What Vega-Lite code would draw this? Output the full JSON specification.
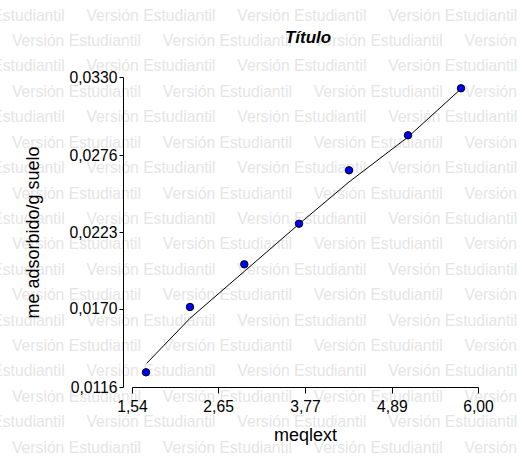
{
  "$schema": "https://vega.github.io/schema/vega-lite/v6.json",
  "width": 346,
  "height": 310,
  "autosize": {"type": "none"},
  "padding": {"left": 132, "top": 77, "right": 43, "bottom": 83},
  "background": "white",
  "config": {"view": {"stroke": null}},
  "title": {"text": "Título", "anchor": "middle", "baseline": "alphabetic", "offset": -52, "dx": 3, "font": "Liberation Sans", "fontSize": 17, "fontWeight": "bold", "fontStyle": "italic", "color": "black"},
  "datasets": {
    "watermark": [
      {"x": -0.9916, "y": 0.036886, "label": "Versión Estudiantil\u00a0\u00a0\u00a0\u00a0\u00a0Versión Estudiantil\u00a0\u00a0\u00a0\u00a0\u00a0Versión Estudiantil\u00a0\u00a0\u00a0\u00a0\u00a0Versión Estudiantil\u00a0\u00a0\u00a0\u00a0\u00a0Versión Estudiantil"},
      {"x": -0.0068, "y": 0.035133, "label": "Versión Estudiantil\u00a0\u00a0\u00a0\u00a0\u00a0Versión Estudiantil\u00a0\u00a0\u00a0\u00a0\u00a0Versión Estudiantil\u00a0\u00a0\u00a0\u00a0\u00a0Versión Estudiantil\u00a0\u00a0\u00a0\u00a0\u00a0Versión Estudiantil"},
      {"x": -0.9916, "y": 0.033380, "label": "Versión Estudiantil\u00a0\u00a0\u00a0\u00a0\u00a0Versión Estudiantil\u00a0\u00a0\u00a0\u00a0\u00a0Versión Estudiantil\u00a0\u00a0\u00a0\u00a0\u00a0Versión Estudiantil\u00a0\u00a0\u00a0\u00a0\u00a0Versión Estudiantil"},
      {"x": -0.0068, "y": 0.031626, "label": "Versión Estudiantil\u00a0\u00a0\u00a0\u00a0\u00a0Versión Estudiantil\u00a0\u00a0\u00a0\u00a0\u00a0Versión Estudiantil\u00a0\u00a0\u00a0\u00a0\u00a0Versión Estudiantil\u00a0\u00a0\u00a0\u00a0\u00a0Versión Estudiantil"},
      {"x": -0.9916, "y": 0.029873, "label": "Versión Estudiantil\u00a0\u00a0\u00a0\u00a0\u00a0Versión Estudiantil\u00a0\u00a0\u00a0\u00a0\u00a0Versión Estudiantil\u00a0\u00a0\u00a0\u00a0\u00a0Versión Estudiantil\u00a0\u00a0\u00a0\u00a0\u00a0Versión Estudiantil"},
      {"x": -0.0068, "y": 0.028119, "label": "Versión Estudiantil\u00a0\u00a0\u00a0\u00a0\u00a0Versión Estudiantil\u00a0\u00a0\u00a0\u00a0\u00a0Versión Estudiantil\u00a0\u00a0\u00a0\u00a0\u00a0Versión Estudiantil\u00a0\u00a0\u00a0\u00a0\u00a0Versión Estudiantil"},
      {"x": -0.9916, "y": 0.026366, "label": "Versión Estudiantil\u00a0\u00a0\u00a0\u00a0\u00a0Versión Estudiantil\u00a0\u00a0\u00a0\u00a0\u00a0Versión Estudiantil\u00a0\u00a0\u00a0\u00a0\u00a0Versión Estudiantil\u00a0\u00a0\u00a0\u00a0\u00a0Versión Estudiantil"},
      {"x": -0.0068, "y": 0.024612, "label": "Versión Estudiantil\u00a0\u00a0\u00a0\u00a0\u00a0Versión Estudiantil\u00a0\u00a0\u00a0\u00a0\u00a0Versión Estudiantil\u00a0\u00a0\u00a0\u00a0\u00a0Versión Estudiantil\u00a0\u00a0\u00a0\u00a0\u00a0Versión Estudiantil"},
      {"x": -0.9916, "y": 0.022859, "label": "Versión Estudiantil\u00a0\u00a0\u00a0\u00a0\u00a0Versión Estudiantil\u00a0\u00a0\u00a0\u00a0\u00a0Versión Estudiantil\u00a0\u00a0\u00a0\u00a0\u00a0Versión Estudiantil\u00a0\u00a0\u00a0\u00a0\u00a0Versión Estudiantil"},
      {"x": -0.0068, "y": 0.021106, "label": "Versión Estudiantil\u00a0\u00a0\u00a0\u00a0\u00a0Versión Estudiantil\u00a0\u00a0\u00a0\u00a0\u00a0Versión Estudiantil\u00a0\u00a0\u00a0\u00a0\u00a0Versión Estudiantil\u00a0\u00a0\u00a0\u00a0\u00a0Versión Estudiantil"},
      {"x": -0.9916, "y": 0.019352, "label": "Versión Estudiantil\u00a0\u00a0\u00a0\u00a0\u00a0Versión Estudiantil\u00a0\u00a0\u00a0\u00a0\u00a0Versión Estudiantil\u00a0\u00a0\u00a0\u00a0\u00a0Versión Estudiantil\u00a0\u00a0\u00a0\u00a0\u00a0Versión Estudiantil"},
      {"x": -0.0068, "y": 0.017599, "label": "Versión Estudiantil\u00a0\u00a0\u00a0\u00a0\u00a0Versión Estudiantil\u00a0\u00a0\u00a0\u00a0\u00a0Versión Estudiantil\u00a0\u00a0\u00a0\u00a0\u00a0Versión Estudiantil\u00a0\u00a0\u00a0\u00a0\u00a0Versión Estudiantil"},
      {"x": -0.9916, "y": 0.015845, "label": "Versión Estudiantil\u00a0\u00a0\u00a0\u00a0\u00a0Versión Estudiantil\u00a0\u00a0\u00a0\u00a0\u00a0Versión Estudiantil\u00a0\u00a0\u00a0\u00a0\u00a0Versión Estudiantil\u00a0\u00a0\u00a0\u00a0\u00a0Versión Estudiantil"},
      {"x": -0.0068, "y": 0.014092, "label": "Versión Estudiantil\u00a0\u00a0\u00a0\u00a0\u00a0Versión Estudiantil\u00a0\u00a0\u00a0\u00a0\u00a0Versión Estudiantil\u00a0\u00a0\u00a0\u00a0\u00a0Versión Estudiantil\u00a0\u00a0\u00a0\u00a0\u00a0Versión Estudiantil"},
      {"x": -0.9916, "y": 0.012339, "label": "Versión Estudiantil\u00a0\u00a0\u00a0\u00a0\u00a0Versión Estudiantil\u00a0\u00a0\u00a0\u00a0\u00a0Versión Estudiantil\u00a0\u00a0\u00a0\u00a0\u00a0Versión Estudiantil\u00a0\u00a0\u00a0\u00a0\u00a0Versión Estudiantil"},
      {"x": -0.0068, "y": 0.010585, "label": "Versión Estudiantil\u00a0\u00a0\u00a0\u00a0\u00a0Versión Estudiantil\u00a0\u00a0\u00a0\u00a0\u00a0Versión Estudiantil\u00a0\u00a0\u00a0\u00a0\u00a0Versión Estudiantil\u00a0\u00a0\u00a0\u00a0\u00a0Versión Estudiantil"},
      {"x": -0.9916, "y": 0.008832, "label": "Versión Estudiantil\u00a0\u00a0\u00a0\u00a0\u00a0Versión Estudiantil\u00a0\u00a0\u00a0\u00a0\u00a0Versión Estudiantil\u00a0\u00a0\u00a0\u00a0\u00a0Versión Estudiantil\u00a0\u00a0\u00a0\u00a0\u00a0Versión Estudiantil"},
      {"x": -0.0068, "y": 0.007078, "label": "Versión Estudiantil\u00a0\u00a0\u00a0\u00a0\u00a0Versión Estudiantil\u00a0\u00a0\u00a0\u00a0\u00a0Versión Estudiantil\u00a0\u00a0\u00a0\u00a0\u00a0Versión Estudiantil\u00a0\u00a0\u00a0\u00a0\u00a0Versión Estudiantil"}
    ],
    "fit": [
      {"x": 1.729, "y": 0.013234},
      {"x": 2.2876, "y": 0.016340},
      {"x": 2.988, "y": 0.019582},
      {"x": 3.6927, "y": 0.022851},
      {"x": 4.337, "y": 0.025752},
      {"x": 5.0977, "y": 0.028858},
      {"x": 5.781, "y": 0.032183}
    ],
    "points": [
      {"x": 1.7205, "y": 0.012615},
      {"x": 2.2876, "y": 0.017123},
      {"x": 2.9876, "y": 0.02007},
      {"x": 3.6927, "y": 0.022873},
      {"x": 4.3372, "y": 0.026559},
      {"x": 5.0977, "y": 0.028975},
      {"x": 5.781, "y": 0.03222}
    ]
  },
  "encoding": {
    "x": {
      "field": "x", "type": "quantitative",
      "scale": {"domain": [1.54, 6.0], "nice": false, "zero": false},
      "axis": {
        "title": "meqlext", "values": [1.54, 2.65, 3.77, 4.89, 6.0],
        "labelExpr": "replace(format(datum.value, '.2f'), '.', ',')",
        "grid": false, "zindex": 1, "labelFlush": false, "labelOverlap": false,
        "domainColor": "black", "domainWidth": 1, "tickColor": "black", "tickWidth": 1, "tickSize": 6,
        "labelPadding": 6, "labelFont": "Liberation Sans", "labelFontSize": 15.7, "labelColor": "black",
        "titleFont": "Liberation Sans", "titleFontSize": 18, "titleFontWeight": "normal", "titleColor": "black",
        "titleBaseline": "alphabetic", "titleY": 53
      }
    },
    "y": {
      "field": "y", "type": "quantitative",
      "scale": {"domain": [0.0116, 0.033], "nice": false, "zero": false},
      "axis": {
        "title": "me adsorbido/g suelo", "values": [0.0116, 0.017, 0.0223, 0.0276, 0.033],
        "labelExpr": "replace(format(datum.value, '.4f'), '.', ',')",
        "grid": false, "zindex": 1, "labelFlush": false, "labelOverlap": false, "offset": 9,
        "domainColor": "black", "domainWidth": 1, "tickColor": "black", "tickWidth": 1, "tickSize": 4,
        "labelPadding": 2, "labelFont": "Liberation Sans", "labelFontSize": 15.7, "labelColor": "black",
        "titleFont": "Liberation Sans", "titleFontSize": 18, "titleFontWeight": "normal", "titleColor": "black",
        "titleAngle": -90, "titleBaseline": "alphabetic", "titleAlign": "center", "titleX": -85, "titleY": 155
      }
    }
  },
  "layer": [
    {
      "data": {"name": "watermark"},
      "mark": {"type": "text", "align": "left", "baseline": "alphabetic", "font": "Liberation Sans", "fontSize": 15.7, "color": "#e5e5e5"},
      "encoding": {"text": {"field": "label", "type": "nominal"}}
    },
    {
      "data": {"name": "fit"},
      "mark": {"type": "line", "color": "black", "strokeWidth": 1},
      "encoding": {}
    },
    {
      "data": {"name": "points"},
      "mark": {"type": "point", "shape": "circle", "filled": true, "size": 55, "fill": "#0000ff", "stroke": "black", "strokeWidth": 1, "opacity": 1},
      "encoding": {}
    }
  ]
}
